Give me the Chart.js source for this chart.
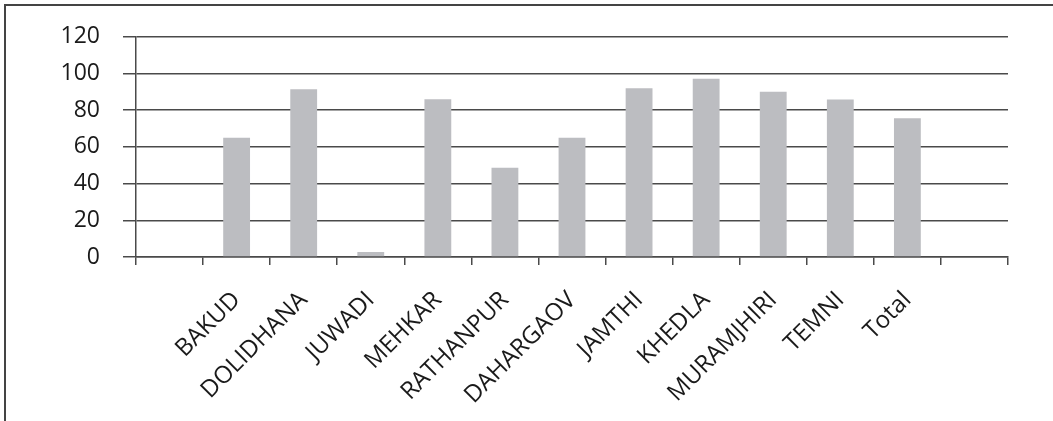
<!DOCTYPE html>
<html>
<head>
<meta charset="utf-8">
<script src="https://cdn.jsdelivr.net/npm/chart.js@4"></script>
<style>
  html, body { margin: 0; padding: 0; background: #fff; }
  #wrap { position: relative; width: 1053px; height: 421px; }
  #frame { position: absolute; left: 4px; top: 4px; right: 0; bottom: 0;
           border-top: 2px solid #444; border-left: 2px solid #444; }
  canvas { position: absolute; left: 0; top: 0; }
</style>
</head>
<body>
<div id="wrap">
  <div id="frame"></div>
  <canvas id="chart" width="1053" height="421"></canvas>
</div>
<script>
// villages (blank slots at both ends, as in the original)
const villages = ['', 'BAKUD', 'DOLIDHANA', 'JUWADI', 'MEHKAR', 'RATHANPUR', 'DAHARGAOV',
                  'JAMTHI', 'KHEDLA', 'MURAMJHIRI', 'TEMNI', 'Total', ''];
const values = [null, 65, 91.4, 2.7, 86, 48.6, 65, 92, 97.2, 90, 85.8, 75.6, null];
const yTicks = [0, 20, 40, 60, 80, 100, 120];

const lineColor = '#4a4a4a';

const chart = new Chart(document.getElementById('chart'), {
    type: 'bar',
    data: {
        labels: villages,
        datasets: [{
            data: values,
            backgroundColor: '#bcbdc1',
            borderWidth: 0,
            barPercentage: 0.4,
            categoryPercentage: 1
        }]
    },
    options: {
        responsive: false,
        animation: false,
        layout: { padding: { top: 36, right: 45, left: 0, bottom: 0 } },
        plugins: {
            legend: { display: false },
            tooltip: { enabled: false }
        },
        scales: {
            x: {
                grid: { offset: true, drawOnChartArea: false, color: lineColor, lineWidth: 1.5, tickLength: 8 },
                border: { color: lineColor, width: 1.5 },
                ticks: {
                    minRotation: 45, maxRotation: 45, autoSkip: false,
                    color: '#1a1a1a', padding: 21,
                    font: { family: 'Open Sans', size: 24 }
                },
                afterFit: s => { s.height = 421 - 257; }
            },
            y: {
                min: 0, max: 120,
                afterBuildTicks: s => { s.ticks = yTicks.map(v => ({ value: v })); },
                grid: { color: lineColor, lineWidth: 1.5, tickLength: 13 },
                border: { color: lineColor, width: 1.5 },
                ticks: {
                    color: '#1a1a1a', padding: 23,
                    font: { family: 'Open Sans', size: 23 }
                },
                afterFit: s => { s.width = 136; }
            }
        }
    }
});
</script>
</body>
</html>
